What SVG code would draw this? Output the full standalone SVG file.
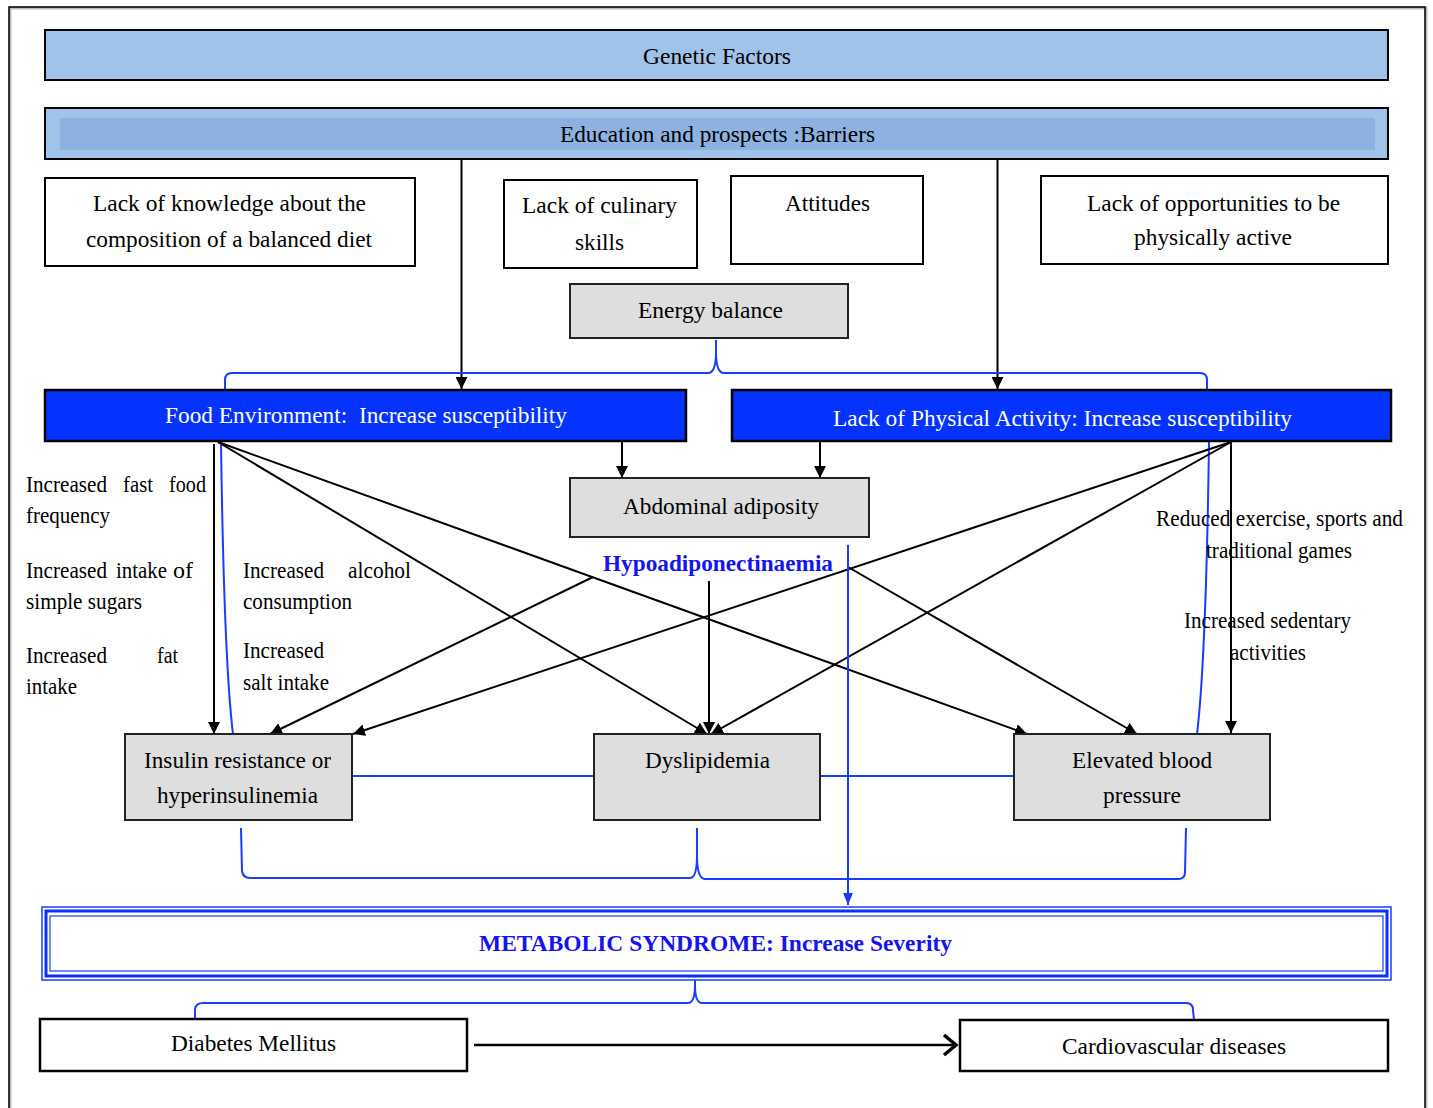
<svg xmlns="http://www.w3.org/2000/svg" width="1433" height="1108" viewBox="0 0 1433 1108">
<defs>
<style>
.t{font-family:"Liberation Serif","Times New Roman",serif;font-size:24px;fill:#000}
.a{font-family:"Liberation Serif","Times New Roman",serif;font-size:23px;fill:#000}
.w{fill:#fff}
.bb{font-weight:bold;fill:#1414F0}
.box{fill:#fff;stroke:#000;stroke-width:2}
.gray{fill:#DEDEDE;stroke:#222;stroke-width:2}
.lb{fill:#A0C3E9;stroke:#000;stroke-width:2}
.db{fill:#0433FF;stroke:#000;stroke-width:2.5}
.k{fill:none;stroke:#000;stroke-width:2}
.bl{fill:none;stroke:#1A3CFF;stroke-width:2}
</style>
<marker id="ah" viewBox="0 0 12 12" refX="12" refY="6" markerWidth="12" markerHeight="12" markerUnits="userSpaceOnUse" orient="auto">
<path d="M0,0 L12,6 L0,12 z" fill="#000"/>
</marker>
<marker id="bh" viewBox="0 0 12 10" refX="12" refY="5" markerWidth="12" markerHeight="10" markerUnits="userSpaceOnUse" orient="auto">
<path d="M0,0 L12,5 L0,10 z" fill="#1A3CFF"/>
</marker>
</defs>
<rect x="0" y="0" width="1433" height="1108" fill="#fff"/>
<rect x="10" y="8" width="1416" height="1110" fill="none" stroke="#bbb" stroke-width="3"/>
<rect x="9" y="7" width="1416" height="1110" fill="none" stroke="#000" stroke-width="1.5"/>

<g id="connectors">
<line class="k" x1="461.5" y1="159" x2="461.5" y2="389" marker-end="url(#ah)"/>
<line class="k" x1="997.5" y1="159" x2="997.5" y2="389" marker-end="url(#ah)"/>
<path class="bl" d="M225,390 L225,380 Q225,373 232,373 L708,373 Q716,373 716,352 L716,340 M716,352 Q716,373 724,373 L1200,373 Q1207,373 1207,380 L1207,390"/>
<path class="bl" d="M221,442 Q224,660 233,734"/>
<path class="bl" d="M1209,442 Q1206,660 1197,734"/>
<line class="k" x1="622" y1="441" x2="622" y2="478" marker-end="url(#ah)"/>
<line class="k" x1="820" y1="441" x2="820" y2="478" marker-end="url(#ah)"/>
<line class="k" x1="214" y1="444" x2="214" y2="734" marker-end="url(#ah)"/>
<line class="k" x1="218" y1="442" x2="707" y2="734" marker-end="url(#ah)"/>
<line class="k" x1="218" y1="442" x2="1027" y2="734" marker-end="url(#ah)"/>
<line class="k" x1="1231" y1="442" x2="1231" y2="733" marker-end="url(#ah)"/>
<line class="k" x1="1231" y1="442" x2="353" y2="734" marker-end="url(#ah)"/>
<line class="k" x1="1231" y1="442" x2="711" y2="734" marker-end="url(#ah)"/>
<line class="k" x1="593" y1="577" x2="270" y2="734" marker-end="url(#ah)"/>
<line class="k" x1="709" y1="581" x2="709" y2="734" marker-end="url(#ah)"/>
<line class="k" x1="848" y1="567" x2="1137" y2="734" marker-end="url(#ah)"/>
<line class="bl" x1="848" y1="545" x2="848" y2="905" marker-end="url(#bh)"/>
<line class="bl" x1="352" y1="776" x2="594" y2="776"/>
<line class="bl" x1="820" y1="776" x2="1014" y2="776"/>
<path class="bl" d="M241,828 L242,871 Q243,878 250,878 L690,878 Q697,878 697,855 L697,828 M697,855 Q697,879 705,879 L1178,879 Q1185,879 1185,872 L1186,828"/>
<path class="bl" d="M195,1018 L195,1009 Q196,1003 203,1003 L688,1003 Q695,1003 695,985 L695,968 M695,985 Q695,1003 702,1003 L1186,1003 Q1193,1003 1193,1010 L1194,1020"/>
<line x1="474" y1="1045" x2="955" y2="1045" stroke="#000" stroke-width="2.5"/>
<polyline points="944,1035 956,1045 944,1055" fill="none" stroke="#000" stroke-width="3.5"/>
</g>

<g id="genetic"><rect class="lb" x="45" y="30" width="1343" height="50"/>
<text class="t" x="643" y="64" textLength="148" lengthAdjust="spacingAndGlyphs">Genetic Factors</text></g>

<g id="education"><rect class="lb" x="45" y="108" width="1343" height="51"/>
<rect x="60" y="118" width="1315" height="32" fill="#8DB2E2"/>
<text class="t" x="560" y="142" textLength="315" lengthAdjust="spacingAndGlyphs">Education and prospects :Barriers</text></g>

<g id="knowledge"><rect class="box" x="45" y="178" width="370" height="88"/>
<text class="t" x="93" y="211" textLength="273" lengthAdjust="spacingAndGlyphs">Lack of knowledge about the</text>
<text class="t" x="86" y="247" textLength="286" lengthAdjust="spacingAndGlyphs">composition of a balanced diet</text></g>

<g id="culinary"><rect class="box" x="504" y="180" width="193" height="88"/>
<text class="t" x="522" y="213" textLength="155" lengthAdjust="spacingAndGlyphs">Lack of culinary</text>
<text class="t" x="575" y="250" textLength="49" lengthAdjust="spacingAndGlyphs">skills</text></g>

<g id="attitudes"><rect class="box" x="731" y="176" width="192" height="88"/>
<text class="t" x="785" y="211" textLength="85" lengthAdjust="spacingAndGlyphs">Attitudes</text></g>

<g id="opportunities"><rect class="box" x="1041" y="176" width="347" height="88"/>
<text class="t" x="1087" y="211" textLength="253" lengthAdjust="spacingAndGlyphs">Lack of opportunities to be</text>
<text class="t" x="1134" y="245" textLength="158" lengthAdjust="spacingAndGlyphs">physically active</text></g>

<g id="energy"><rect class="gray" x="570" y="284" width="278" height="54"/>
<text class="t" x="638" y="318" textLength="145" lengthAdjust="spacingAndGlyphs">Energy balance</text></g>

<g id="foodenv"><rect class="db" x="45" y="390" width="641" height="51"/>
<text class="t w" x="165" y="423" textLength="402" lengthAdjust="spacingAndGlyphs">Food Environment:&#160; Increase susceptibility</text></g>

<g id="physact"><rect class="db" x="732" y="390" width="659" height="51"/>
<text class="t w" x="833" y="426" textLength="459" lengthAdjust="spacingAndGlyphs">Lack of Physical Activity: Increase susceptibility</text></g>

<g id="abdominal"><rect class="gray" x="570" y="478" width="299" height="59"/>
<text class="t" x="623" y="514" textLength="196" lengthAdjust="spacingAndGlyphs">Abdominal adiposity</text></g>

<g id="hypo"><text class="t bb" x="603" y="571" textLength="230" lengthAdjust="spacingAndGlyphs">Hypoadiponectinaemia</text></g>

<g id="food-labels">
<text class="a" x="26" y="492" textLength="81" lengthAdjust="spacingAndGlyphs">Increased</text>
<text class="a" x="123" y="492" textLength="30" lengthAdjust="spacingAndGlyphs">fast</text>
<text class="a" x="169" y="492" textLength="37" lengthAdjust="spacingAndGlyphs">food</text>
<text class="a" x="26" y="523" textLength="84" lengthAdjust="spacingAndGlyphs">frequency</text>
<text class="a" x="26" y="578" textLength="81" lengthAdjust="spacingAndGlyphs">Increased</text>
<text class="a" x="116" y="578" textLength="51" lengthAdjust="spacingAndGlyphs">intake</text>
<text class="a" x="173" y="578" textLength="20" lengthAdjust="spacingAndGlyphs">of</text>
<text class="a" x="26" y="609" textLength="116" lengthAdjust="spacingAndGlyphs">simple sugars</text>
<text class="a" x="26" y="663" textLength="81" lengthAdjust="spacingAndGlyphs">Increased</text>
<text class="a" x="157" y="663" textLength="21" lengthAdjust="spacingAndGlyphs">fat</text>
<text class="a" x="26" y="694" textLength="51" lengthAdjust="spacingAndGlyphs">intake</text>
<text class="a" x="243" y="578" textLength="81" lengthAdjust="spacingAndGlyphs">Increased</text>
<text class="a" x="348" y="578" textLength="63" lengthAdjust="spacingAndGlyphs">alcohol</text>
<text class="a" x="243" y="609" textLength="109" lengthAdjust="spacingAndGlyphs">consumption</text>
<text class="a" x="243" y="658" textLength="81" lengthAdjust="spacingAndGlyphs">Increased</text>
<text class="a" x="243" y="690" textLength="86" lengthAdjust="spacingAndGlyphs">salt intake</text>
</g>

<g id="pa-labels">
<text class="a" x="1156" y="526" textLength="247" lengthAdjust="spacingAndGlyphs">Reduced exercise, sports and</text>
<text class="a" x="1206" y="558" textLength="146" lengthAdjust="spacingAndGlyphs">traditional games</text>
<text class="a" x="1184" y="628" textLength="167" lengthAdjust="spacingAndGlyphs">Increased sedentary</text>
<text class="a" x="1230" y="660" textLength="76" lengthAdjust="spacingAndGlyphs">activities</text>
</g>

<g id="insulin"><rect class="gray" x="125" y="734" width="227" height="86"/>
<text class="t" x="144" y="768" textLength="187" lengthAdjust="spacingAndGlyphs">Insulin resistance or</text>
<text class="t" x="157" y="803" textLength="161" lengthAdjust="spacingAndGlyphs">hyperinsulinemia</text></g>

<g id="dyslipidemia"><rect class="gray" x="594" y="734" width="226" height="86"/>
<text class="t" x="645" y="768" textLength="125" lengthAdjust="spacingAndGlyphs">Dyslipidemia</text></g>

<g id="bp"><rect class="gray" x="1014" y="734" width="256" height="86"/>
<text class="t" x="1072" y="768" textLength="140" lengthAdjust="spacingAndGlyphs">Elevated blood</text>
<text class="t" x="1103" y="803" textLength="78" lengthAdjust="spacingAndGlyphs">pressure</text></g>

<g id="metabolic">
<rect x="42" y="907" width="1349" height="73" fill="#fff" stroke="#1A3CFF" stroke-width="1.5"/>
<rect x="46" y="911" width="1341" height="65" fill="none" stroke="#0A30FF" stroke-width="3"/>
<rect x="50" y="916" width="1333" height="55" fill="none" stroke="#1A3CFF" stroke-width="1.2"/>
<text class="t bb" x="479" y="951" textLength="473" lengthAdjust="spacingAndGlyphs">METABOLIC SYNDROME: Increase Severity</text></g>

<g id="diabetes"><rect x="40" y="1019" width="427" height="52" fill="#fff" stroke="#000" stroke-width="2.5"/>
<text class="t" x="171" y="1051" textLength="165" lengthAdjust="spacingAndGlyphs">Diabetes Mellitus</text></g>

<g id="cvd"><rect x="960" y="1020" width="428" height="51" fill="#fff" stroke="#000" stroke-width="2.5"/>
<text class="t" x="1062" y="1054" textLength="224" lengthAdjust="spacingAndGlyphs">Cardiovascular diseases</text></g>
</svg>
